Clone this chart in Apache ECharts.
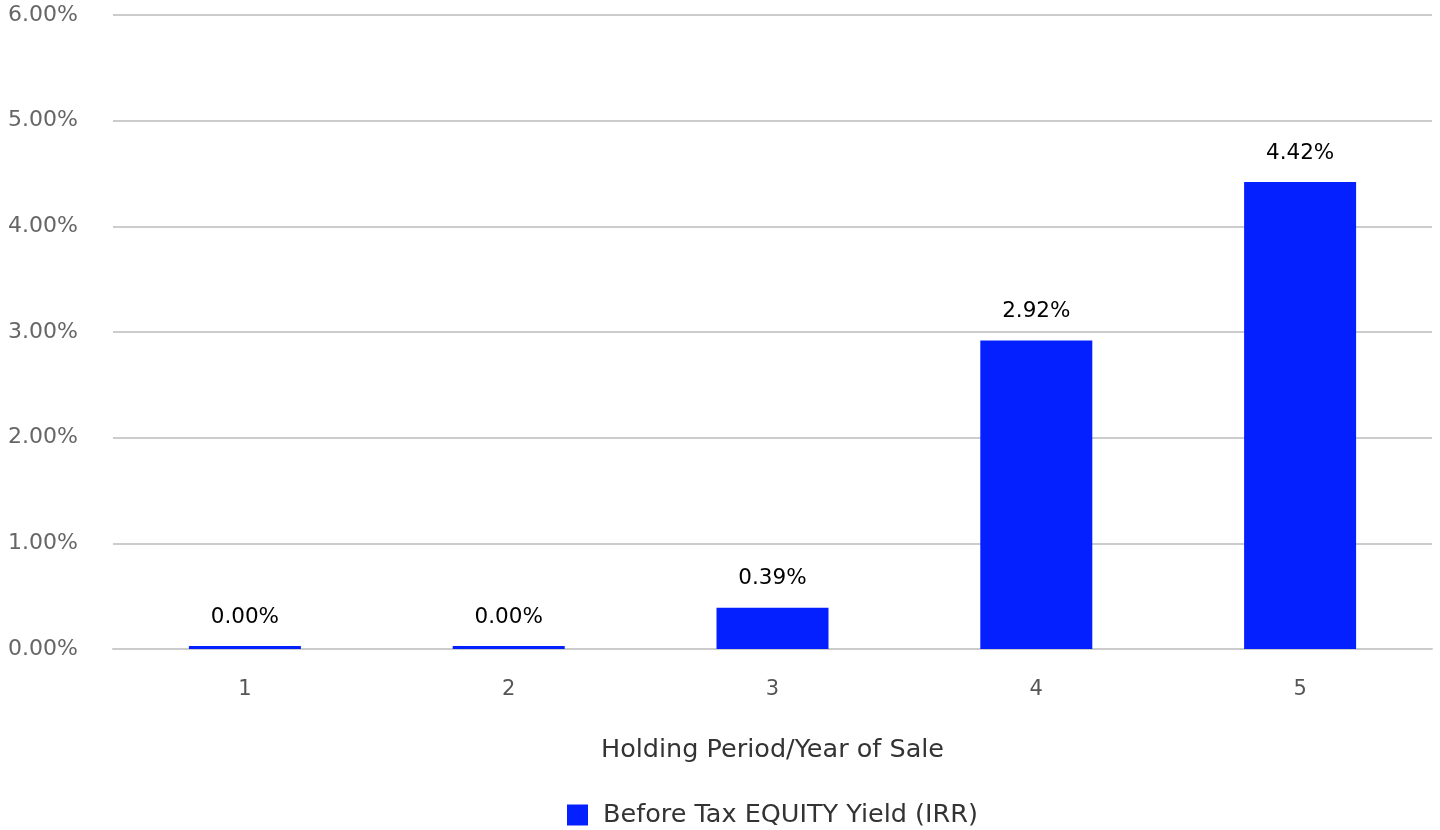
<!DOCTYPE html>
<html>
<head>
<meta charset="utf-8">
<script src="https://cdn.jsdelivr.net/npm/echarts@6/dist/echarts.min.js"></script>
<style>
  html, body { margin: 0; padding: 0; background: #fff; }
  #chart { width: 1440px; height: 830px; }
</style>
</head>
<body>
<div id="chart"></div>
<script>
const years = ["1", "2", "3", "4", "5"];
const irr = [0.0, 0.0, 0.39, 2.92, 4.42];
const seriesName = "Before Tax EQUITY Yield (IRR)";

const chart = echarts.init(document.getElementById("chart"));
const font = "'DejaVu Sans', sans-serif";

chart.setOption({
  animation: false,
  textStyle: { fontFamily: font },
  grid: { left: 113, right: 8, top: 15, bottom: 181 },
  legend: {
    bottom: 2,
    left: 567,
    padding: 0,
    itemWidth: 21,
    itemHeight: 21,
    icon: "rect",
    textStyle: { fontSize: 25.5, color: "#333", fontFamily: font, padding: [0, 0, 0, 10] },
    data: [seriesName]
  },
  xAxis: {
    type: "category",
    data: years,
    name: "Holding Period/Year of Sale",
    nameLocation: "middle",
    nameGap: 88,
    nameTextStyle: { fontSize: 25.5, color: "#333", fontFamily: font },
    axisTick: { show: false },
    axisLine: { show: true, lineStyle: { color: "#ccc", width: 2 } },
    axisLabel: { fontSize: 21, color: "#555", margin: 30, fontFamily: font }
  },
  yAxis: {
    type: "value",
    min: 0,
    max: 6,
    interval: 1,
    axisLine: { show: false },
    axisTick: { show: false },
    splitLine: { lineStyle: { color: "#ccc", width: 2 } },
    axisLabel: {
      fontSize: 22,
      color: "#666",
      margin: 35,
      fontFamily: font,
      formatter: v => v.toFixed(2) + "%"
    }
  },
  series: [{
    name: seriesName,
    type: "bar",
    data: irr,
    barWidth: 112,
    barMinHeight: 3,
    itemStyle: { color: "#0520ff" },
    label: {
      show: true,
      position: "top",
      distance: 18,
      fontSize: 21.5,
      color: "#000",
      fontFamily: font,
      formatter: p => p.value.toFixed(2) + "%"
    }
  }]
});
</script>
</body>
</html>
